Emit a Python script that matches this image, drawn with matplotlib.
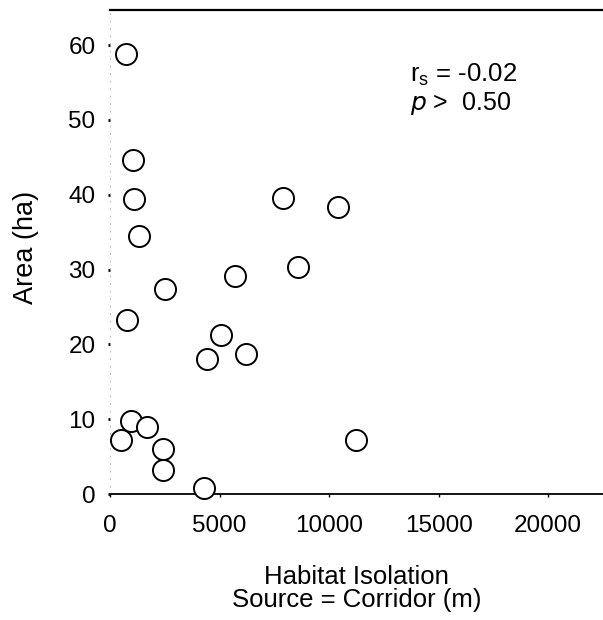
import matplotlib.pyplot as plt

# habitat isolation (m) and patch area (ha) per site
isolation = [730, 1055, 1080, 7890, 10400, 1330, 8580, 5690, 2520, 780,
             5050, 4450, 6190, 11240, 505, 963, 1700, 2430, 2430, 4310]
area = [58.8, 44.6, 39.4, 39.6, 38.3, 34.5, 30.4, 29.2, 27.4, 23.2,
        21.3, 18.1, 18.7, 7.2, 7.2, 9.8, 9.0, 6.0, 3.2, 0.8]

xticks = [0, 5000, 10000, 15000, 20000]
yticks = [0, 10, 20, 30, 40, 50, 60]

plt.rcParams['font.family'] = ['Liberation Sans', 'DejaVu Sans']

fig = plt.figure(figsize=(6.03, 6.20), dpi=100)
ax = fig.add_axes([0.1824, 0.2032, 0.8176, 0.7807])

ax.scatter(isolation, area, s=230, facecolors='white', edgecolors='black',
           linewidths=1.4, zorder=3, clip_on=False)

ax.set_xlim(0, 22500)
ax.set_ylim(0, 64.7)
ax.set_xticks(xticks)
ax.set_yticks(yticks)

ax.spines['right'].set_visible(False)
ax.spines['top'].set_linewidth(1.6)
ax.spines['bottom'].set_linewidth(1.3)
ax.spines['left'].set_linestyle((0, (1, 8)))
ax.spines['left'].set_linewidth(0.6)
ax.spines['left'].set_color('#aaaaaa')

ax.tick_params(axis='y', length=1.5, width=2, pad=9, labelsize=17.5)
ax.tick_params(axis='x', length=2, width=1, pad=13, labelsize=17.5)

ax.set_ylabel('Area (ha)', fontsize=19.5)
ax.yaxis.set_label_coords(-0.144, 0.51)
ax.set_xlabel('Habitat Isolation\nSource = Corridor (m)', fontsize=18.5,
              labelpad=20, linespacing=0.95)

ax.text(0.608, 0.866, r'r$_\mathregular{s}$ = -0.02', transform=ax.transAxes,
        fontsize=18.5, ha='left', va='center')
ax.text(0.608, 0.806, r'$\mathit{p}$ >  0.50', transform=ax.transAxes,
        fontsize=18, ha='left', va='center')

fig.savefig('out.png', dpi=100)
